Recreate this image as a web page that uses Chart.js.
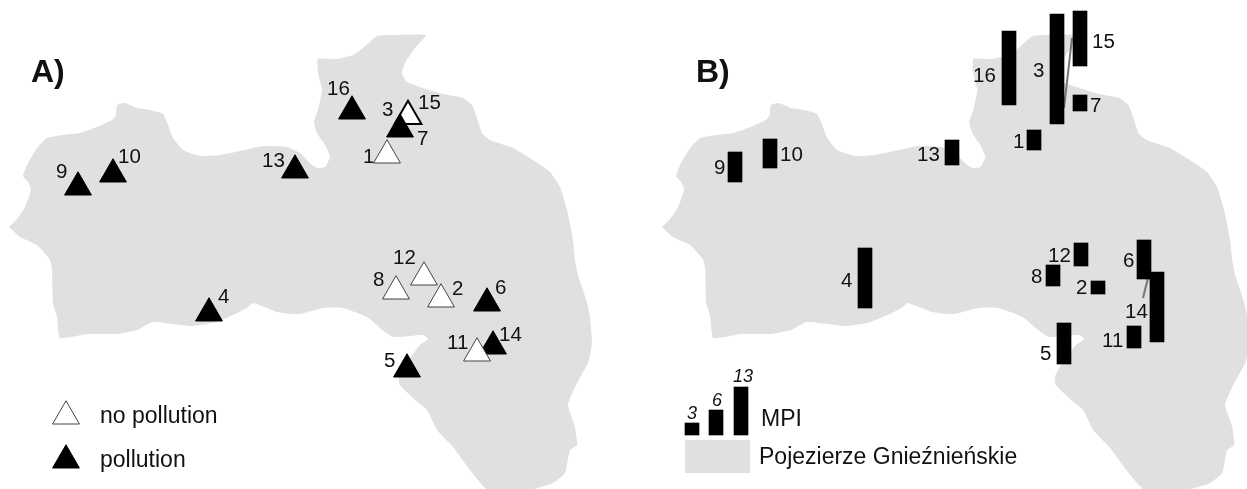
<!DOCTYPE html>
<html>
<head>
<meta charset="utf-8">
<style>
  html, body { margin: 0; padding: 0; background: #fff; }
  canvas { display: block; }
</style>
<script src="https://cdn.jsdelivr.net/npm/chart.js@4"></script>
</head>
<body>
<canvas id="map" width="1247" height="489"></canvas>
<script>
// region outline
const outlineX = [9,17,25,31,28,23,28,37,47,63,80,97,112,116,117,125,137,150,163,168,173,183,200,220,240,263,287,300,312,318,325,330,325,317,314,318,322,318,318,337,353,363,377,393,426,415,405,402,407,423,443,463,472,477,482,490,513,533,550,560,567,573,575,578,583,587,590,592,588,577,568,575,577,570,565,553,533,487,470,453,437,427,413,400,399,405,420,428,423,393,380,367,343,323,300,293,277,253,247,233,213,190,153,137,117,87,60,57,53,52,50,37,20,9];
const outlineY = [227,219,207,190,182,176,163,148,138,135,133,127,120,115,105,103,108,110,114,125,138,150,156,155,151,146,147,153,165,168,167,157,145,133,122,110,90,73,59,59,55,48,36,35,35,48,63,73,82,88,94,98,105,118,133,140,148,160,172,187,210,240,260,275,290,303,317,343,363,383,405,427,445,450,473,483,489,489,470,447,430,410,398,385,377,365,345,339,335,337,328,317,308,308,314,314,312,303,308,315,323,326,322,330,334,334,338,317,303,270,260,245,237,227];

// triangles, draw order matters (15 under 7, 14 under 11)
const siteLabels = ['9','10','13','16','15','7','1','4','12','8','2','6','14','11','5'];
const siteX = [78,113,295,352,408,400,387,209,424,396,441,487,493,477,407];
const siteBaseY = [195,182,178,119,124,137,163,321,285,299,307,311,354,361,377];
const sitePolluted = [1,1,1,1,0,1,0,1,0,0,0,1,1,0,1];
const legendTriX = [66,66];
const legendTriBaseY = [424,468];
const legendTriPolluted = [0,1];

// MPI bars of panel B, last three are the key
const barNames = ['16','3','15','7','1','9','10','13','4','12','8','2','6','14','11','5','key3','key6','key13'];
const barX = [1009,1057,1080,1080,1034,735,770,952,865,1081,1053,1098,1144,1157,1134,1064,692,716,741];
const barTop = [31,14,11,95,130,152,139,140,248,243,265,281,240,272,326,323,423,410,387];
const barBottom = [105,124,66,111,150,182,168,165,308,266,286,294,279,342,348,364,435,435,435];

const leader1X = [1064,1072], leader1Y = [108,38];
const leader2X = [1143,1148], leader2Y = [298,278];

const keyPatchX = [685,750,750,685,685], keyPatchY = [440,440,473,473,440];

// text: string, left x, baseline y
const numberTexts = ['9','10','13','16','3','15','7','1','12','8','2','6','14','11','5','4',
  '16','3','15','7','1','9','10','13','4','12','8','2','6','14','11','5'];
const numberX = [56,118,262,327,382,418,417,363,393,373,452,495,499,447,384,218,
  973,1033,1092,1090,1013,714,780,917,841,1048,1031,1076,1123,1125,1102,1040];
const numberY = [178,163,167,95,116,109,145,163,264,286,295,294,341,349,367,303,
  82,77,48,112,148,174,161,161,287,262,283,294,267,318,347,360];
const keyTexts = ['no pollution','pollution','MPI','Pojezierze Gnieźnieńskie'];
const keyTextX = [100,100,761,759];
const keyTextY = [423,467,426,464];
const italicTexts = ['3','6','13'];
const italicX = [687,712,733];
const italicY = [419,406,382];
const panelTexts = ['A)','B)'];
const panelX = [31,696];
const panelY = [82,82];

const GREY = '#e0e0e0';
const TRI_R = 15.5;

const toPoints = (xs, ys) => xs.map((x, i) => ({ x, y: ys[i] }));
// triangle centre sits r/2 above the base line
const triPoints = (xs, bases) => xs.map((x, i) => ({ x, y: bases[i] - TRI_R / 2 }));
const triFill = flags => flags.map(f => f ? '#000' : '#fff');
const triEdge = flags => flags.map(f => f ? '#000' : '#444');

const textPlugin = {
  id: 'mapText',
  afterDatasetsDraw(chart) {
    const { ctx, scales: { x, y } } = chart;
    const put = (texts, xs, ys, font) => {
      ctx.font = font;
      texts.forEach((t, i) => ctx.fillText(t, x.getPixelForValue(xs[i]), y.getPixelForValue(ys[i])));
    };
    ctx.save();
    ctx.fillStyle = '#111';
    ctx.textAlign = 'left';
    ctx.textBaseline = 'alphabetic';
    put(numberTexts, numberX, numberY, '20.5px "Liberation Sans"');
    put(keyTexts, keyTextX, keyTextY, '23px "Liberation Sans"');
    put(italicTexts, italicX, italicY, 'italic 18px "Liberation Sans"');
    put(panelTexts, panelX, panelY, 'bold 32px "Liberation Sans"');
    ctx.restore();
  }
};

const outlineStyle = {
  type: 'line', fill: 'shape', backgroundColor: GREY, borderWidth: 0,
  pointRadius: 0, tension: 0.15
};
const leaderStyle = {
  type: 'line', fill: false, borderColor: '#777', borderWidth: 2, pointRadius: 0, order: 2
};

new Chart(document.getElementById('map'), {
  type: 'scatter',
  data: {
    datasets: [
      { ...outlineStyle, label: 'outline A', data: toPoints(outlineX, outlineY), order: 5 },
      { ...outlineStyle, label: 'outline B', xAxisID: 'xB', data: toPoints(outlineX, outlineY), order: 5 },
      { type: 'line', label: 'key patch', fill: 'shape', backgroundColor: GREY, borderWidth: 0, pointRadius: 0,
        data: toPoints(keyPatchX, keyPatchY), order: 5 },
      { ...leaderStyle, label: 'leader 15', data: toPoints(leader1X, leader1Y) },
      { ...leaderStyle, label: 'leader 14', data: toPoints(leader2X, leader2Y) },
      { type: 'bar', label: 'MPI', grouped: false, barThickness: 14, borderWidth: 0, backgroundColor: '#000',
        data: barX.map((x, i) => ({ x, y: [barTop[i], barBottom[i]] })), order: 1 },
      { type: 'scatter', label: 'sites', pointStyle: 'triangle', pointRadius: TRI_R,
        pointBackgroundColor: triFill(sitePolluted),
        // 15 has a heavier black edge in the source
        pointBorderColor: siteLabels.map((l, i) => l === '15' ? '#000' : triEdge(sitePolluted)[i]),
        pointBorderWidth: siteLabels.map(l => l === '15' ? 2 : 1),
        data: triPoints(siteX, siteBaseY), order: 0 },
      { type: 'scatter', label: 'key triangles', pointStyle: 'triangle', pointRadius: TRI_R,
        pointBackgroundColor: triFill(legendTriPolluted), pointBorderColor: triEdge(legendTriPolluted),
        pointBorderWidth: 1, data: triPoints(legendTriX, legendTriBaseY), order: 0 }
    ]
  },
  options: {
    responsive: false,
    animation: false,
    events: [],
    layout: { padding: 0, autoPadding: false },
    scales: {
      x: { type: 'linear', min: 0, max: 1247, offset: false, display: false },
      xB: { type: 'linear', axis: 'x', min: -648, max: 589.7, offset: false, display: false },
      y: { type: 'linear', min: 0, max: 489, reverse: true, beginAtZero: false, display: false }
    },
    plugins: { legend: { display: false }, tooltip: { enabled: false }, title: { display: false } }
  },
  plugins: [textPlugin]
});
</script>
</body>
</html>
